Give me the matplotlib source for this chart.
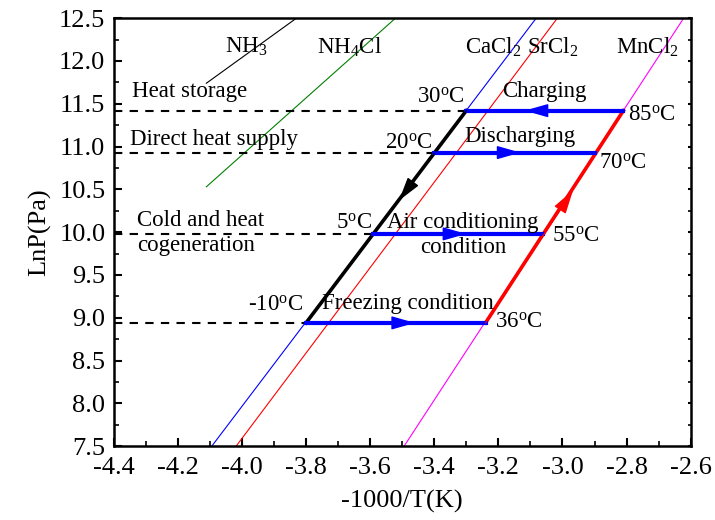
import matplotlib
matplotlib.use('Agg')
import matplotlib.pyplot as plt

plt.rcParams['font.family'] = ['Liberation Serif', 'DejaVu Serif']
plt.rcParams['mathtext.fontset'] = 'custom'
plt.rcParams['mathtext.rm'] = 'Liberation Serif'
plt.rcParams['mathtext.it'] = 'Liberation Serif:italic'

# equilibrium lines (x = -1000/T, y = LnP)
nh3_x = [-4.111, -3.830]
nh3_y = [11.74, 12.5]
nh4cl_x = [-4.111, -3.521]
nh4cl_y = [10.53, 12.5]
cacl2_x = [-4.094, -3.082]
srcl2_x = [-4.018, -3.016]
mncl2_x = [-3.494, -2.622]
salt_y = [7.5, 12.5]

# working conditions
levels = [11.42, 10.93, 9.98, 8.94]
low_x = [-3.30, -3.40, -3.59, -3.80]
high_x = [-2.81, -2.90, -3.06, -3.24]
low_temps = ['30', '20', '5', '-10']
high_temps = ['85', '70', '55', '36']
mode_names = ['Heat storage', 'Direct heat supply', 'Cold and heat\ncogeneration', '']
process_names = ['Charging', 'Discharging', 'Air conditioning\ncondition', 'Freezing condition']
arrow_tips = [-3.118, -3.131, -3.30, -3.46]

fig, ax = plt.subplots(figsize=(7.15, 5.2), dpi=100)
fig.subplots_adjust(left=0.159, right=0.966, top=0.965, bottom=0.142)

ax.plot(nh3_x, nh3_y, color='black', lw=0.8)
ax.plot(nh4cl_x, nh4cl_y, color='green', lw=0.8)
ax.plot(cacl2_x, salt_y, color='blue', lw=0.8)
ax.plot(srcl2_x, salt_y, color='red', lw=0.8)
ax.plot(mncl2_x, salt_y, color='magenta', lw=0.8)

# dashed guides from the y axis
for lv, lx in zip(levels, low_x):
    ax.plot([-4.4, lx], [lv, lv], color='black', lw=1.5, ls=(0, (4, 3.5)))

# black (evaporation) and red (desorption) lines
ax.plot([low_x[3], low_x[0]], [levels[3], levels[0]], color='black', lw=2.6)
ax.plot([high_x[3], high_x[0]], [levels[3], levels[0]], color='red', lw=2.6)

hs = '-|>,head_length=0.95,head_width=0.27'
ax.annotate('', xy=(-3.51, 10.37), xytext=(low_x[0], levels[0]),
            arrowprops=dict(arrowstyle=hs, color='black', lw=1, mutation_scale=15.5, shrinkA=0, shrinkB=0))
ax.annotate('', xy=(-2.967, 10.49), xytext=(high_x[3], levels[3]),
            arrowprops=dict(arrowstyle=hs, color='red', lw=1, mutation_scale=15.5, shrinkA=0, shrinkB=0))

# blue horizontal processes
for i, lv in enumerate(levels):
    ax.plot([low_x[i], high_x[i]], [lv, lv], color='blue', lw=3)
    start = high_x[i] if i == 0 else low_x[i]
    ax.annotate('', xy=(arrow_tips[i], lv), xytext=(start, lv),
                arrowprops=dict(arrowstyle=hs, color='blue', lw=1, mutation_scale=15.5, shrinkA=0, shrinkB=0))

fs = 16.5
deg = r'$^\mathrm{o}$C'
ax.text(-4.054, 12.16, r'NH$_\mathrm{3}$', fontsize=fs, va='center')
ax.text(-3.767, 12.16, r'NH$_\mathrm{4}$Cl', fontsize=fs, va='center')
ax.text(-3.305, 12.16, r'CaCl$_\mathrm{2}$', fontsize=fs, va='center')
ax.text(-3.110, 12.16, r'SrCl$_\mathrm{2}$', fontsize=fs, va='center')
ax.text(-2.834, 12.16, r'MnCl$_\mathrm{2}$', fontsize=fs, va='center')

ax.text(-4.343, 11.64, mode_names[0], fontsize=fs, va='center')
ax.text(-4.350, 11.085, mode_names[1], fontsize=fs, va='center')
ax.text(-4.327, 9.985, mode_names[2], fontsize=fs, va='center', linespacing=1.25)

low_pos = [(-3.305, 11.58), (-3.405, 11.04), (-3.595, 10.10), (-3.81, 9.15)]
high_pos = [(-2.796, 11.37), (-2.886, 10.81), (-3.032, 9.95), (-3.212, 8.95)]
proc_pos = [(-3.057, 11.64), (-3.132, 11.115), (-3.31, 9.97), (-3.481, 9.167)]
for i in range(4):
    ax.text(low_pos[i][0], low_pos[i][1], low_temps[i] + deg, fontsize=fs, ha='right', va='center')
    ax.text(high_pos[i][0], high_pos[i][1], high_temps[i] + deg, fontsize=fs, ha='left', va='center')
    ax.text(proc_pos[i][0], proc_pos[i][1], process_names[i], fontsize=fs, ha='center', va='center',
            linespacing=1.25)

ax.set_xlim(-4.4, -2.6)
ax.set_ylim(7.5, 12.5)
ax.set_xticks([-4.4, -4.2, -4.0, -3.8, -3.6, -3.4, -3.2, -3.0, -2.8, -2.6])
ax.set_xticks([-4.3, -4.1, -3.9, -3.7, -3.5, -3.3, -3.1, -2.9, -2.7], minor=True)
ax.set_yticks([7.5, 8.0, 8.5, 9.0, 9.5, 10.0, 10.5, 11.0, 11.5, 12.0, 12.5])
ax.set_yticks([7.75, 8.25, 8.75, 9.25, 9.75, 10.25, 10.75, 11.25, 11.75, 12.25], minor=True)
ax.set_xticklabels(['-4.4', '-4.2', '-4.0', '-3.8', '-3.6', '-3.4', '-3.2', '-3.0', '-2.8', '-2.6'])
ax.tick_params(which='major', direction='in', length=6, width=1.5, labelsize=19)
ax.tick_params(axis='x', which='major', pad=8)
ax.tick_params(axis='y', which='major', pad=6)
ax.tick_params(which='minor', direction='in', length=3.5, width=1.2)
ax.tick_params(which='both', top=False, right=True)
for t in ax.yaxis.get_major_ticks() + ax.yaxis.get_minor_ticks():
    t.tick2line.set_markersize(2)
for s in ax.spines.values():
    s.set_linewidth(1.8)

ax.set_xlabel('-1000/T(K)', fontsize=19, labelpad=8)
ax.set_ylabel('LnP(Pa)', fontsize=19, labelpad=6)

plt.savefig('out.png', dpi=100)
